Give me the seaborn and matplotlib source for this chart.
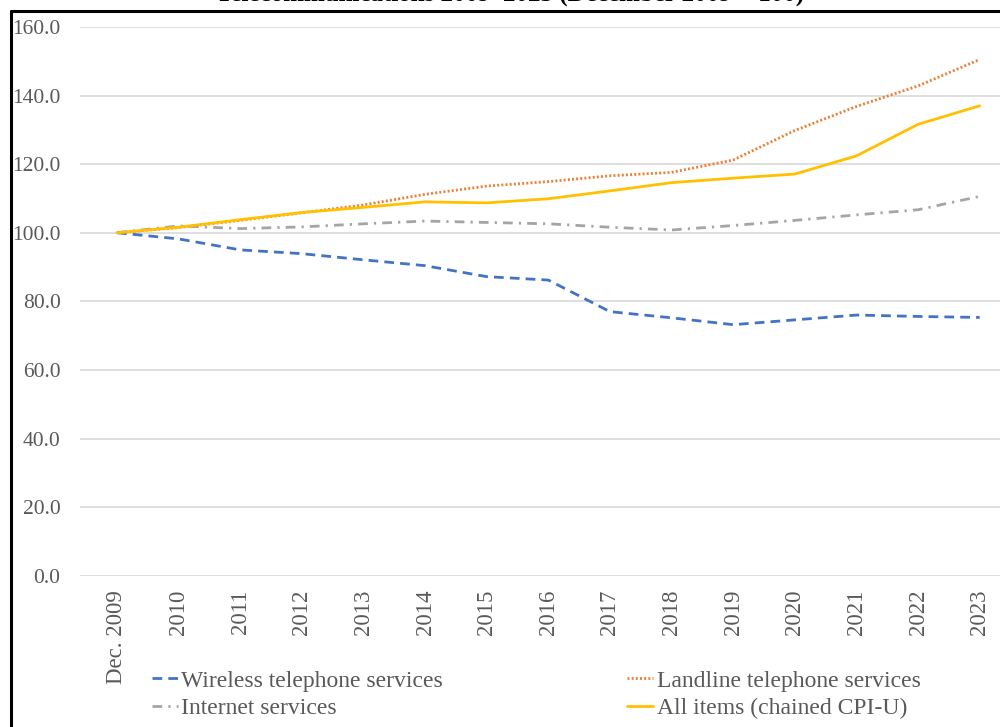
import seaborn as sns
import pandas as pd
import matplotlib.pyplot as plt
from matplotlib.lines import Line2D

# Index values (Dec. 2009 = 100)
years = ['Dec. 2009', '2010', '2011', '2012', '2013', '2014', '2015', '2016',
         '2017', '2018', '2019', '2020', '2021', '2022', '2023']
wireless = [100.0, 98.2, 95.0, 93.9, 92.1, 90.4, 87.2, 86.2, 77.0, 75.2, 73.2, 74.6, 76.0, 75.6, 75.3]
internet = [100.0, 102.0, 101.2, 101.7, 102.6, 103.4, 103.0, 102.6, 101.6, 100.8, 102.1, 103.6, 105.2, 106.7, 110.6]
landline = [100.0, 101.5, 103.6, 105.8, 108.1, 111.2, 113.6, 114.9, 116.6, 117.6, 121.2, 129.8, 136.8, 142.8, 150.5]
all_items = [100.0, 101.6, 103.8, 105.9, 107.4, 109.0, 108.7, 109.9, 112.2, 114.6, 115.9, 117.1, 122.4, 131.6, 137.0]

series_names = ['Wireless telephone services', 'Internet services',
                'Landline telephone services', 'All items (chained CPI-U)']
series_values = [wireless, internet, landline, all_items]

rows = []
for name, vals in zip(series_names, series_values):
    for yr, v in zip(years, vals):
        rows.append({'Year': yr, 'Index': v, 'Series': name})
df = pd.DataFrame(rows)

palette = {'Wireless telephone services': '#4472C4',
           'Internet services': '#A5A5A5',
           'Landline telephone services': '#ED7D31',
           'All items (chained CPI-U)': '#FFC000'}
dashes = {'Wireless telephone services': (3.5, 2.2),
          'Internet services': (3.5, 2.2, 0.8, 2.2),
          'Landline telephone services': (0.7, 0.8),
          'All items (chained CPI-U)': ''}

sns.set_style('white')
plt.rcParams['font.family'] = ['Liberation Serif', 'DejaVu Serif']

fig = plt.figure(figsize=(10, 7.27), dpi=100)
ax = fig.add_axes([0.08, 0.208, 0.92, 0.755])

sns.lineplot(data=df, x='Year', y='Index', hue='Series', style='Series',
             hue_order=series_names, style_order=series_names,
             palette=palette, dashes=dashes, linewidth=2, sort=False, ax=ax)

ax.set_ylim(0, 160)
ax.set_xlim(-0.6, 14.33)
ax.set_yticks(range(0, 161, 20))
ax.set_yticklabels([f'{v:.1f}' for v in range(0, 161, 20)])
ax.tick_params(axis='y', labelsize=15.5, labelcolor='#595959', length=0, pad=14)
ax.tick_params(axis='x', labelsize=16.5, labelcolor='#595959', length=0, pad=10,
               labelrotation=90)
ax.grid(axis='y', color='#d9d9d9', linewidth=1.2)
ax.set_xlabel('')
ax.set_ylabel('')
for s in ax.spines.values():
    s.set_visible(False)

ax.legend(loc='upper left', bbox_to_anchor=(0.078, -0.172), ncol=2, frameon=False,
          fontsize=17, handlelength=1.1, handletextpad=0.15, columnspacing=7.8,
          labelspacing=0.25, borderpad=0, borderaxespad=0, labelcolor='#595959')

# title sits mostly above the top edge, as in the cropped source
fig.text(0.51, 1 - 6 / 727, 'Telecommunications 2009\u20132023 (December 2009 = 100)',
         ha='center', va='bottom', fontsize=18, fontweight='bold', color='black')

# black frame on the left and top edges
fig.add_artist(Line2D([0.011, 0.011], [0, 1 - 11 / 727], color='black', linewidth=2.2,
                      transform=fig.transFigure))
fig.add_artist(Line2D([0.011, 1.0], [1 - 11 / 727, 1 - 11 / 727], color='black', linewidth=2.2,
                      transform=fig.transFigure))

fig.savefig('out.png', dpi=100)
